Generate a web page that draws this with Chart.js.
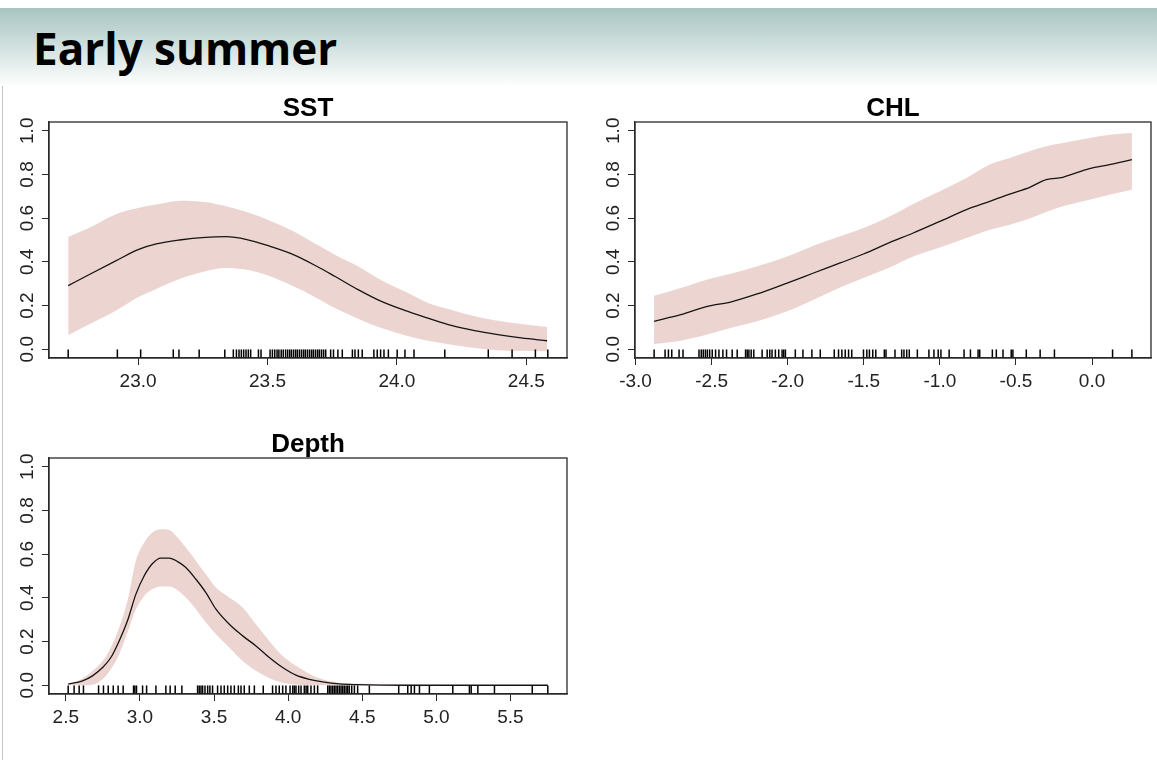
<!DOCTYPE html>
<html>
<head>
<meta charset="utf-8">
<script src="https://cdn.jsdelivr.net/npm/chart.js@4/dist/chart.umd.min.js"></script>
<style>
html,body{margin:0;padding:0;background:#fff;width:1157px;height:760px;overflow:hidden;position:relative;}
#band{position:absolute;left:0;top:8px;width:1157px;height:80px;background:linear-gradient(to bottom,#a8c5c2 0%,#c9dcda 40%,#eef4f3 80%,#ffffff 100%);}
#head{position:absolute;left:33px;top:26px;margin:0;font-family:'Open Sans',Lato,sans-serif;font-weight:700;font-size:44px;line-height:44px;letter-spacing:0px;color:#000;white-space:nowrap;}
#vline{position:absolute;left:2px;top:86px;width:1px;height:674px;background:#c4c4c4;}
canvas{position:absolute;}
</style>
</head>
<body>
<div id="band"></div>
<h1 id="head">Early summer</h1>
<div id="vline"></div>
<canvas id="cSST" width="585" height="312" style="left:0px;top:88px;"></canvas>
<canvas id="cCHL" width="571" height="312" style="left:586px;top:88px;"></canvas>
<canvas id="cDepth" width="585" height="312" style="left:0px;top:424px;"></canvas>
<script>
// ---------- data ----------
const yTicks = [0.0, 0.2, 0.4, 0.6, 0.8, 1.0];

const sstTicks = [23.0, 23.5, 24.0, 24.5];
const sstX     = [22.73, 22.81, 22.91, 23.00, 23.07, 23.16, 23.26, 23.34, 23.42, 23.51, 23.60, 23.69, 23.76, 23.85, 23.94, 24.03, 24.12, 24.21, 24.30, 24.39, 24.48, 24.58];
const sstFit   = [0.291, 0.341, 0.402, 0.456, 0.482, 0.500, 0.512, 0.515, 0.502, 0.471, 0.433, 0.380, 0.334, 0.273, 0.219, 0.178, 0.143, 0.109, 0.085, 0.067, 0.052, 0.039];
const sstUpper = [0.514, 0.555, 0.616, 0.646, 0.662, 0.680, 0.674, 0.654, 0.628, 0.588, 0.540, 0.479, 0.433, 0.380, 0.316, 0.265, 0.212, 0.181, 0.151, 0.131, 0.116, 0.102];
const sstLower = [0.064, 0.113, 0.174, 0.238, 0.276, 0.321, 0.357, 0.372, 0.364, 0.334, 0.288, 0.235, 0.189, 0.140, 0.097, 0.064, 0.039, 0.021, 0.006, -0.004, -0.007, -0.009];
const sstRug   = [22.730, 22.920, 23.010, 23.136, 23.158, 23.236, 23.335, 23.368, 23.380, 23.390, 23.399, 23.408, 23.417, 23.426, 23.435, 23.465, 23.475,
  23.510, 23.519, 23.528, 23.537, 23.544, 23.553, 23.561, 23.570, 23.578, 23.586, 23.593, 23.601, 23.609, 23.616, 23.624, 23.632, 23.640, 23.647, 23.655, 23.663, 23.671, 23.678, 23.686, 23.694, 23.701, 23.709, 23.717, 23.725,
  23.744, 23.755, 23.772, 23.789, 23.828, 23.838, 23.851, 23.866, 23.911, 23.924, 23.937, 23.950, 23.967, 24.001, 24.031, 24.066, 24.185, 24.353, 24.445, 24.535, 24.583];

const chlTicks = [-3.0, -2.5, -2.0, -1.5, -1.0, -0.5, 0.0];
const chlX     = [-2.878, -2.703, -2.528, -2.376, -2.201, -2.004, -1.830, -1.655, -1.502, -1.328, -1.175, -1.000, -0.825, -0.672, -0.541, -0.410, -0.301, -0.192, -0.017, 0.114, 0.262];
const chlFit   = [0.128, 0.158, 0.196, 0.216, 0.253, 0.303, 0.349, 0.395, 0.436, 0.489, 0.532, 0.585, 0.639, 0.677, 0.710, 0.741, 0.776, 0.787, 0.827, 0.845, 0.868];
const chlUpper = [0.245, 0.280, 0.319, 0.345, 0.380, 0.425, 0.474, 0.517, 0.555, 0.609, 0.665, 0.723, 0.784, 0.845, 0.875, 0.906, 0.929, 0.944, 0.967, 0.982, 0.990];
const chlLower = [0.024, 0.039, 0.067, 0.097, 0.128, 0.174, 0.227, 0.283, 0.326, 0.375, 0.425, 0.466, 0.509, 0.547, 0.570, 0.598, 0.628, 0.654, 0.684, 0.707, 0.730];
const chlRug   = [-2.878, -2.806, -2.784, -2.762, -2.714, -2.688, -2.583, -2.568, -2.555, -2.541, -2.528, -2.513, -2.496, -2.474, -2.452, -2.426, -2.402, -2.365, -2.332,
  -2.277, -2.266, -2.255, -2.240, -2.223, -2.168, -2.135, -2.118, -2.103, -2.081, -2.059, -2.037, -2.026, -2.015, -1.950, -1.900, -1.841, -1.786,
  -1.694, -1.666, -1.644, -1.622, -1.600, -1.579, -1.502, -1.480, -1.463, -1.441, -1.421, -1.365, -1.354, -1.295, -1.251, -1.236, -1.218, -1.201,
  -1.148, -1.072, -1.039, -1.011, -0.993, -0.939, -0.841, -0.799, -0.749, -0.738, -0.655, -0.629, -0.585, -0.531, -0.520, -0.432, -0.341, -0.247, 0.135, 0.262];

const depthTicks = [2.5, 3.0, 3.5, 4.0, 4.5, 5.0, 5.5];
const depthX     = [2.516, 2.613, 2.680, 2.748, 2.804, 2.860, 2.916, 2.973, 3.029, 3.085, 3.141, 3.198, 3.254, 3.310, 3.378, 3.445, 3.513, 3.603, 3.693, 3.783, 3.873, 3.963, 4.053, 4.143, 4.233, 4.346, 4.458, 4.796, 5.246, 5.752];
const depthFit   = [0.005, 0.020, 0.043, 0.081, 0.127, 0.203, 0.295, 0.417, 0.501, 0.557, 0.582, 0.582, 0.566, 0.539, 0.485, 0.424, 0.348, 0.279, 0.226, 0.180, 0.127, 0.081, 0.046, 0.027, 0.015, 0.006, 0.003, 0.000, 0.000, 0.000];
const depthUpper = [0.005, 0.031, 0.066, 0.111, 0.173, 0.264, 0.386, 0.570, 0.653, 0.699, 0.714, 0.710, 0.676, 0.630, 0.569, 0.508, 0.447, 0.402, 0.356, 0.279, 0.203, 0.134, 0.089, 0.053, 0.027, 0.012, 0.008, 0.003, 0.000, 0.000];
const depthLower = [0.000, 0.000, 0.002, 0.027, 0.073, 0.142, 0.241, 0.348, 0.409, 0.440, 0.452, 0.452, 0.435, 0.402, 0.348, 0.287, 0.234, 0.173, 0.111, 0.066, 0.032, 0.012, 0.003, 0.000, 0.000, 0.000, 0.000, 0.000, 0.000, 0.000];
const depthRug   = [2.516, 2.556, 2.590, 2.619, 2.721, 2.754, 2.786, 2.820, 2.853, 2.887, 2.957, 2.966, 2.977, 3.018, 3.045, 3.108, 3.175, 3.204, 3.238, 3.283,
  3.389, 3.400, 3.412, 3.423, 3.439, 3.457, 3.472, 3.490, 3.524, 3.547, 3.569, 3.592, 3.614, 3.637, 3.664, 3.682, 3.704, 3.738, 3.772, 3.832,
  3.895, 3.918, 3.940, 3.963, 3.985, 4.013, 4.031, 4.042, 4.053, 4.071, 4.087, 4.109, 4.121, 4.132, 4.154, 4.177, 4.199,
  4.267, 4.278, 4.289, 4.301, 4.312, 4.323, 4.334, 4.346, 4.357, 4.368, 4.379, 4.391, 4.402, 4.413, 4.429, 4.447, 4.469, 4.548,
  4.746, 4.807, 4.830, 4.852, 4.886, 4.953, 5.111, 5.223, 5.235, 5.280, 5.392, 5.647, 5.752];

// ---------- drawing ----------
Chart.defaults.font.family = "'Liberation Sans', Arial, sans-serif";
const BAND = '#ecd4d1';
const INK = '#222';

const boxPlugin = {
  id: 'rbox',
  afterDatasetsDraw(chart) {
    const a = chart.chartArea, ctx = chart.ctx;
    ctx.save();
    ctx.strokeStyle = '#2a2a2a';
    ctx.lineWidth = 1.3;
    ctx.strokeRect(a.left, a.top, a.right - a.left, a.bottom - a.top);
    ctx.restore();
  }
};

function ext(arr) {           // R-style 4% axis extension
  const lo = Math.min(...arr), hi = Math.max(...arr), d = (hi - lo) * 0.04;
  return [lo - d, hi + d];
}
const pts = (xs, ys) => xs.map((x, i) => ({x: x, y: ys[i]}));

function panel(id, title, xs, fit, up, lo, rug, xTicks, padRight) {
  const [xMin, xMax] = ext(rug);
  const [yMin, yMax] = ext(yTicks);
  const rugY = yMin + 0.0195;   // rug marks stand on the lower frame
  new Chart(document.getElementById(id), {
    type: 'line',
    data: {
      datasets: [
        {data: pts(xs, lo), borderWidth: 0, pointRadius: 0, fill: false, cubicInterpolationMode: 'monotone', order: 3},
        {data: pts(xs, up), borderWidth: 0, pointRadius: 0, fill: '-1', backgroundColor: BAND, cubicInterpolationMode: 'monotone', order: 2},
        {data: pts(xs, fit), borderColor: '#151515', borderWidth: 1.3, pointRadius: 0, fill: false, cubicInterpolationMode: 'monotone', order: 0},
        {type: 'scatter', data: rug.map(v => ({x: v, y: rugY})), pointStyle: 'line', rotation: 90, radius: 4.3,
         borderColor: '#000', borderWidth: 1.5, backgroundColor: '#000', order: 1}
      ]
    },
    options: {
      responsive: false, animation: false, events: [],
      layout: {padding: {left: 0, right: padRight, top: 0, bottom: 0}},
      plugins: {
        legend: {display: false}, tooltip: {enabled: false},
        title: {display: true, text: title, fullSize: false, color: '#000',
                font: {size: 26, weight: 'bold', lineHeight: 1}, padding: {top: 8, bottom: 0}}
      },
      scales: {
        x: {
          type: 'linear', min: xMin, max: xMax,
          afterBuildTicks: s => { s.ticks = xTicks.map(v => ({value: v})); },
          afterFit: s => { s.height = 42; },
          grid: {drawOnChartArea: false, drawTicks: true, tickLength: 7, color: '#2a2a2a', lineWidth: 1},
          border: {display: true, color: '#2a2a2a', width: 1.3},
          ticks: {autoSkip: false, minRotation: 0, maxRotation: 0, padding: 5, color: INK,
                  font: {size: 19}, callback: v => Number(v).toFixed(1)}
        },
        y: {
          type: 'linear', min: yMin, max: yMax,
          afterBuildTicks: s => { s.ticks = yTicks.map(v => ({value: v})); },
          afterFit: s => { s.width = 49; },
          grid: {drawOnChartArea: false, drawTicks: true, tickLength: 7, color: '#2a2a2a', lineWidth: 1},
          border: {display: true, color: '#2a2a2a', width: 1.3},
          ticks: {autoSkip: false, minRotation: 90, maxRotation: 90, crossAlign: 'center', padding: 1, color: INK,
                  font: {size: 19}, callback: v => Number(v).toFixed(1)}
        }
      }
    },
    plugins: [boxPlugin]
  });
}

panel('cSST', 'SST', sstX, sstFit, sstUpper, sstLower, sstRug, sstTicks, 18);
panel('cCHL', 'CHL', chlX, chlFit, chlUpper, chlLower, chlRug, chlTicks, 6);
panel('cDepth', 'Depth', depthX, depthFit, depthUpper, depthLower, depthRug, depthTicks, 18);
</script>
</body>
</html>
